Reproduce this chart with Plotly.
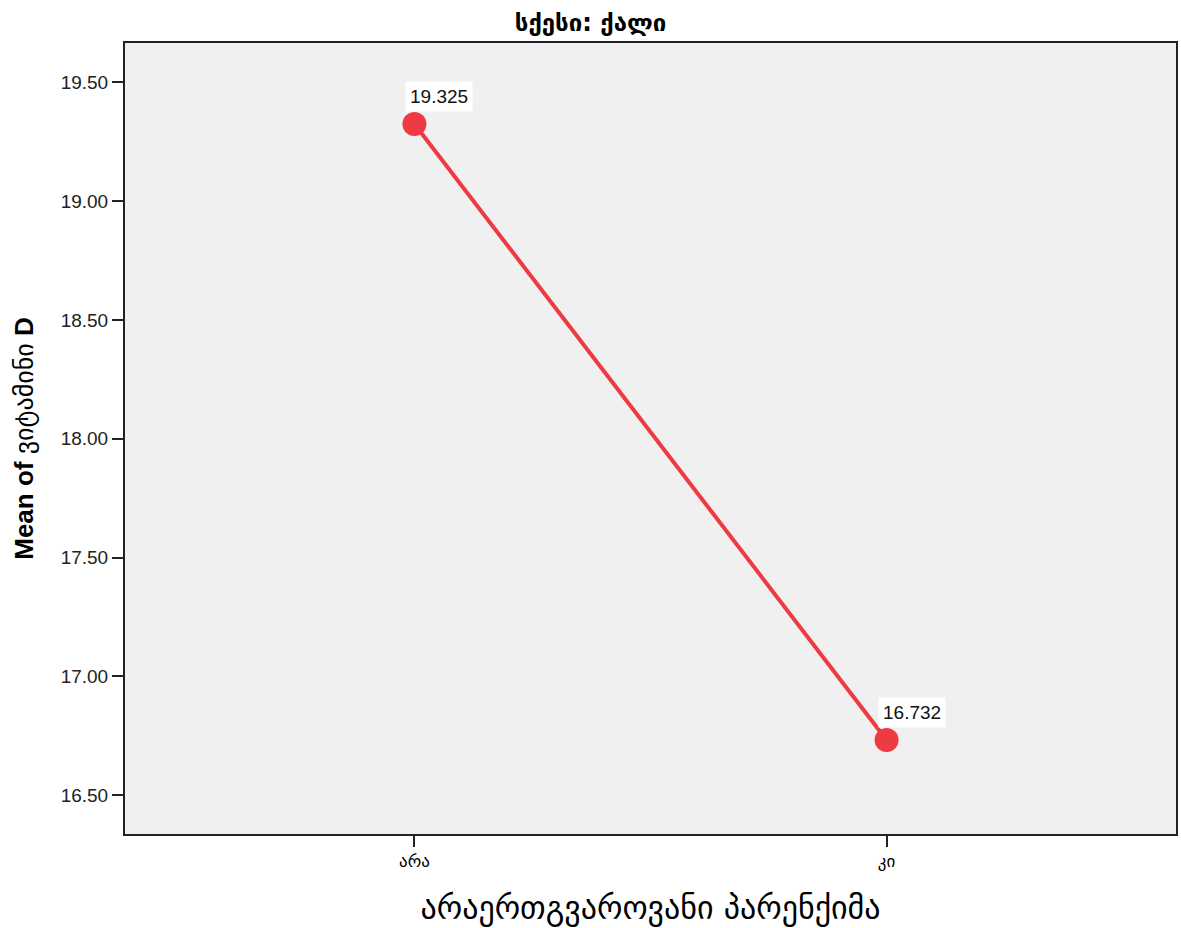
import plotly.graph_objects as go

categories = ["არა", "კი"]
means = [19.325, 16.732]
y_ticks = [16.5, 17.0, 17.5, 18.0, 18.5, 19.0, 19.5]
y_tick_labels = ["16.50", "17.00", "17.50", "18.00", "18.50", "19.00", "19.50"]

title_text = "<b>სქესი: ქალი</b>"
x_title = "არაერთგვაროვანი პარენქიმა"
y_title = "<b>Mean of</b> ვიტამინი <b>D</b>"

red = "#ee3a43"

fig = go.Figure()
fig.add_trace(go.Scatter(
    x=categories, y=means, mode="lines+markers",
    line=dict(color=red, width=4),
    marker=dict(color=red, size=24),
    showlegend=False, hoverinfo="x+y",
))

for c, v in zip(categories, means):
    fig.add_annotation(
        x=c, y=v, text=f"{v:.3f}", showarrow=False,
        xanchor="left", yanchor="bottom",
        xshift=-9, yshift=12, bgcolor="white", borderpad=4,
        font=dict(family="Liberation Sans, Arial", size=19, color="#111"),
    )

fig.update_layout(
    width=1181, height=928,
    margin=dict(l=125, r=3, t=43, b=94),
    paper_bgcolor="white", plot_bgcolor="#f0f0f0",
    title=dict(text=title_text, x=0.5, xanchor="center", y=0.976, yanchor="middle",
               font=dict(family="DejaVu Sans", size=24, color="black")),
    font=dict(family="Liberation Sans, Arial", color="black"),
)
fig.update_xaxes(
    type="category", range=[-0.613, 1.613],
    showline=True, linecolor="#222", linewidth=2, mirror=True,
    showgrid=False, zeroline=False,
    ticks="outside", ticklen=11, tickcolor="#222", tickwidth=1.5,
    tickfont=dict(family="DejaVu Sans", size=17, color="black"),
    title=dict(text=x_title, font=dict(family="DejaVu Sans", size=32, color="black"), standoff=26),
)
fig.update_yaxes(
    range=[16.336, 19.666],
    tickvals=y_ticks, ticktext=y_tick_labels,
    showline=True, linecolor="#222", linewidth=2, mirror=True,
    showgrid=False, zeroline=False,
    ticks="outside", ticklen=11, tickcolor="#222", tickwidth=1.5,
    tickfont=dict(family="Liberation Sans, Arial", size=19, color="#222"),
    title=dict(text=y_title, font=dict(family="Liberation Sans, DejaVu Sans", size=26, color="black"), standoff=20),
)

fig.write_html("out.html", config={"displayModeBar": False},
               post_script="document.body.style.margin='0';document.body.style.overflow='hidden';")
